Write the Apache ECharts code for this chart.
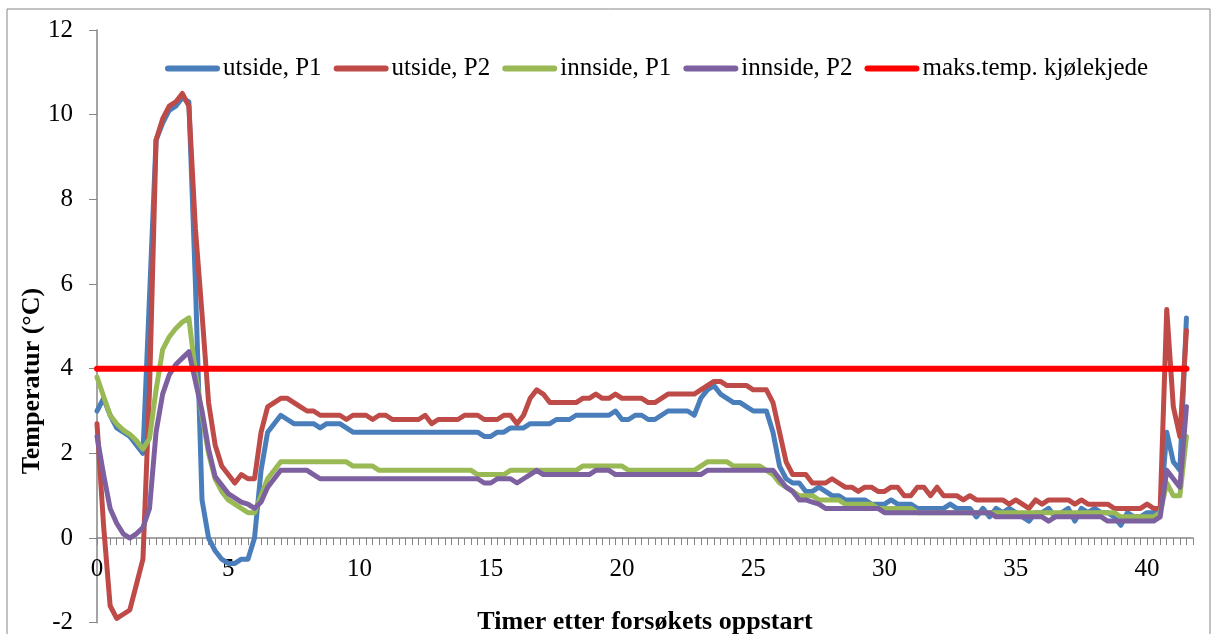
<!DOCTYPE html>
<html>
<head>
<meta charset="utf-8">
<title>Temperatur</title>
<script src="https://cdn.jsdelivr.net/npm/echarts@6/dist/echarts.min.js"></script>
<style>
  html, body { margin: 0; padding: 0; background: #ffffff; }
  #chart { width: 1213px; height: 634px; }
</style>
</head>
<body>
<div id="chart"></div>
<script>
// Logged temperatures, one reading every 15 minutes (0.25 h) from start.
const SAMPLE_STEP_H = 0.25;

const utsideP1 = [
  3.0, 3.3, 2.9, 2.6, 2.5, 2.4, 2.2, 2.0, 5.7, 9.4,
  9.8, 10.1, 10.2, 10.4, 10.3, 6.0, 0.9, 0.0, -0.3, -0.5,
  -0.6, -0.6, -0.5, -0.5, 0.0, 1.6, 2.5, 2.7, 2.9, 2.8,
  2.7, 2.7, 2.7, 2.7, 2.6, 2.7, 2.7, 2.7, 2.6, 2.5,
  2.5, 2.5, 2.5, 2.5, 2.5, 2.5, 2.5, 2.5, 2.5, 2.5,
  2.5, 2.5, 2.5, 2.5, 2.5, 2.5, 2.5, 2.5, 2.5, 2.4,
  2.4, 2.5, 2.5, 2.6, 2.6, 2.6, 2.7, 2.7, 2.7, 2.7,
  2.8, 2.8, 2.8, 2.9, 2.9, 2.9, 2.9, 2.9, 2.9, 3.0,
  2.8, 2.8, 2.9, 2.9, 2.8, 2.8, 2.9, 3.0, 3.0, 3.0,
  3.0, 2.9, 3.3, 3.5, 3.6, 3.4, 3.3, 3.2, 3.2, 3.1,
  3.0, 3.0, 3.0, 2.5, 1.7, 1.4, 1.3, 1.3, 1.1, 1.1,
  1.2, 1.1, 1.0, 1.0, 0.9, 0.9, 0.9, 0.9, 0.8, 0.8,
  0.8, 0.9, 0.8, 0.8, 0.8, 0.7, 0.7, 0.7, 0.7, 0.7,
  0.8, 0.7, 0.7, 0.7, 0.5, 0.7, 0.5, 0.7, 0.6, 0.7,
  0.6, 0.5, 0.4, 0.6, 0.6, 0.7, 0.5, 0.6, 0.7, 0.4,
  0.7, 0.6, 0.7, 0.6, 0.6, 0.5, 0.3, 0.6, 0.5, 0.5,
  0.6, 0.6, 0.6, 2.5, 1.8, 1.6, 5.2
];

const utsideP2 = [
  2.7, 0.3, -1.6, -1.9, -1.8, -1.7, -1.1, -0.5, 3.5, 9.4,
  9.9, 10.2, 10.3, 10.5, 10.2, 7.3, 5.3, 3.2, 2.2, 1.7,
  1.5, 1.3, 1.5, 1.4, 1.4, 2.5, 3.1, 3.2, 3.3, 3.3,
  3.2, 3.1, 3.0, 3.0, 2.9, 2.9, 2.9, 2.9, 2.8, 2.9,
  2.9, 2.9, 2.8, 2.9, 2.9, 2.8, 2.8, 2.8, 2.8, 2.8,
  2.9, 2.7, 2.8, 2.8, 2.8, 2.8, 2.9, 2.9, 2.9, 2.8,
  2.8, 2.8, 2.9, 2.9, 2.7, 2.9, 3.3, 3.5, 3.4, 3.2,
  3.2, 3.2, 3.2, 3.2, 3.3, 3.3, 3.4, 3.3, 3.3, 3.4,
  3.3, 3.3, 3.3, 3.3, 3.2, 3.2, 3.3, 3.4, 3.4, 3.4,
  3.4, 3.4, 3.5, 3.6, 3.7, 3.7, 3.6, 3.6, 3.6, 3.6,
  3.5, 3.5, 3.5, 3.2, 2.5, 1.8, 1.5, 1.5, 1.5, 1.3,
  1.3, 1.3, 1.4, 1.3, 1.2, 1.2, 1.1, 1.2, 1.2, 1.1,
  1.1, 1.2, 1.2, 1.0, 1.0, 1.2, 1.2, 1.0, 1.2, 1.0,
  1.0, 1.0, 0.9, 1.0, 0.9, 0.9, 0.9, 0.9, 0.9, 0.8,
  0.9, 0.8, 0.7, 0.9, 0.8, 0.9, 0.9, 0.9, 0.9, 0.8,
  0.9, 0.8, 0.8, 0.8, 0.8, 0.7, 0.7, 0.7, 0.7, 0.7,
  0.8, 0.7, 0.7, 5.4, 3.1, 2.4, 4.9
];

const innsideP1 = [
  3.8, 3.35, 2.9, 2.7, 2.55, 2.45, 2.3, 2.1, 2.35, 3.5,
  4.45, 4.75, 4.95, 5.1, 5.2, 3.9, 2.9, 2.0, 1.4, 1.1,
  0.9, 0.8, 0.7, 0.6, 0.6, 1.0, 1.4, 1.6, 1.8, 1.8,
  1.8, 1.8, 1.8, 1.8, 1.8, 1.8, 1.8, 1.8, 1.8, 1.7,
  1.7, 1.7, 1.7, 1.6, 1.6, 1.6, 1.6, 1.6, 1.6, 1.6,
  1.6, 1.6, 1.6, 1.6, 1.6, 1.6, 1.6, 1.6, 1.5, 1.5,
  1.5, 1.5, 1.5, 1.6, 1.6, 1.6, 1.6, 1.6, 1.6, 1.6,
  1.6, 1.6, 1.6, 1.6, 1.7, 1.7, 1.7, 1.7, 1.7, 1.7,
  1.7, 1.6, 1.6, 1.6, 1.6, 1.6, 1.6, 1.6, 1.6, 1.6,
  1.6, 1.6, 1.7, 1.8, 1.8, 1.8, 1.8, 1.7, 1.7, 1.7,
  1.7, 1.7, 1.6, 1.5, 1.3, 1.2, 1.1, 1.0, 1.0, 1.0,
  0.9, 0.9, 0.9, 0.9, 0.8, 0.8, 0.8, 0.8, 0.8, 0.7,
  0.7, 0.7, 0.7, 0.7, 0.7, 0.6, 0.6, 0.6, 0.6, 0.6,
  0.6, 0.6, 0.6, 0.6, 0.6, 0.6, 0.6, 0.6, 0.6, 0.6,
  0.6, 0.6, 0.6, 0.6, 0.6, 0.6, 0.6, 0.6, 0.6, 0.6,
  0.6, 0.6, 0.6, 0.6, 0.6, 0.6, 0.5, 0.5, 0.5, 0.5,
  0.5, 0.5, 0.6, 1.3, 1.0, 1.0, 2.4
];

const innsideP2 = [
  2.4, 1.5, 0.7, 0.35, 0.1, 0.0, 0.1, 0.25, 0.7, 2.5,
  3.4, 3.85, 4.1, 4.25, 4.4, 3.7, 3.0, 2.1, 1.45, 1.25,
  1.05, 0.95, 0.85, 0.8, 0.7, 0.85, 1.2, 1.4, 1.6, 1.6,
  1.6, 1.6, 1.6, 1.5, 1.4, 1.4, 1.4, 1.4, 1.4, 1.4,
  1.4, 1.4, 1.4, 1.4, 1.4, 1.4, 1.4, 1.4, 1.4, 1.4,
  1.4, 1.4, 1.4, 1.4, 1.4, 1.4, 1.4, 1.4, 1.4, 1.3,
  1.3, 1.4, 1.4, 1.4, 1.3, 1.4, 1.5, 1.6, 1.5, 1.5,
  1.5, 1.5, 1.5, 1.5, 1.5, 1.5, 1.6, 1.6, 1.6, 1.5,
  1.5, 1.5, 1.5, 1.5, 1.5, 1.5, 1.5, 1.5, 1.5, 1.5,
  1.5, 1.5, 1.5, 1.6, 1.6, 1.6, 1.6, 1.6, 1.6, 1.6,
  1.6, 1.6, 1.6, 1.6, 1.4, 1.2, 1.1, 0.9, 0.9, 0.85,
  0.8, 0.7, 0.7, 0.7, 0.7, 0.7, 0.7, 0.7, 0.7, 0.7,
  0.6, 0.6, 0.6, 0.6, 0.6, 0.6, 0.6, 0.6, 0.6, 0.6,
  0.6, 0.6, 0.6, 0.6, 0.6, 0.6, 0.6, 0.5, 0.5, 0.5,
  0.5, 0.5, 0.5, 0.5, 0.5, 0.4, 0.5, 0.5, 0.5, 0.5,
  0.5, 0.5, 0.5, 0.5, 0.4, 0.4, 0.4, 0.4, 0.4, 0.4,
  0.4, 0.4, 0.5, 1.6, 1.4, 1.2, 3.1
];

// Cold-chain maximum temperature, a flat limit across the whole run.
const maksTempHours = [0, 41.5];
const maksTempValues = [4, 4];

// Axis ranges and tick labels.
const xMin = 0, xMax = 41.75, xTickStep = 0.25, xLabelStep = 5;
const yMin = -2, yMax = 12, yStep = 2;

const seriesNames = ['utside, P1', 'utside, P2', 'innside, P1', 'innside, P2', 'maks.temp. kjølekjede'];
const seriesColors = ['#4A7EBB', '#BE4B48', '#98B954', '#7D60A0', '#FF0000'];
const xTitle = 'Timer etter forsøkets oppstart';
const yTitle = 'Temperatur (°C)';

const timeHours = utsideP1.map((_, i) => i * SAMPLE_STEP_H);
const pairs = (xs, ys) => ys.map((v, i) => [xs[i], v]);

const FONT = "'Liberation Serif', 'Times New Roman', serif";
const AXIS_GREY = '#868686';

// Plot area in pixels; the time axis is drawn where the temperature is 0 °C.
const GRID = { left: 97, right: 20, top: 30, bottom: 11.3 };
const CHART_H = 634;
const plotH = CHART_H - GRID.top - GRID.bottom;
const zeroLift = plotH * (0 - yMin) / (yMax - yMin);

const lineSeries = (name, color, data, width) => ({
  name: name,
  type: 'line',
  data: data,
  showSymbol: false,
  symbol: 'none',
  silent: true,
  clip: true,
  lineStyle: { color: color, width: width, cap: 'round', join: 'round' },
  itemStyle: { color: color },
  emphasis: { disabled: true }
});

const legendIcon = 'path://M3,0H52A3,3,0,0,1,52,6H3A3,3,0,0,1,3,0Z';

const chart = echarts.init(document.getElementById('chart'), null, { renderer: 'canvas' });
chart.setOption({
  animation: false,
  backgroundColor: '#ffffff',
  textStyle: { fontFamily: FONT },
  grid: {
    left: GRID.left, right: GRID.right, top: GRID.top, bottom: GRID.bottom,
    containLabel: false,
    outerBoundsMode: 'none'
  },
  legend: {
    left: 160,
    top: 51,
    icon: legendIcon,
    itemWidth: 55,
    itemHeight: 6,
    itemGap: 12,
    selectedMode: false,
    textStyle: { fontFamily: FONT, fontSize: 25, color: '#000000', padding: [0, 0, 0, -2] },
    data: seriesNames
  },
  xAxis: {
    type: 'value',
    position: 'bottom',
    offset: -zeroLift,
    min: xMin,
    max: xMax,
    interval: xTickStep,
    name: xTitle,
    nameLocation: 'middle',
    nameGap: 71,
    nameTextStyle: { fontFamily: FONT, fontSize: 26, fontWeight: 'bold', color: '#000000' },
    axisLine: { show: true, onZero: false, lineStyle: { color: AXIS_GREY, width: 1.5 } },
    axisTick: { show: true, inside: false, length: 7, lineStyle: { color: AXIS_GREY, width: 1 } },
    axisLabel: {
      show: true,
      margin: 19,
      fontFamily: FONT,
      fontSize: 25,
      color: '#000000',
      hideOverlap: false,
      formatter: v => (Math.abs(v / xLabelStep - Math.round(v / xLabelStep)) < 1e-6 ? String(Math.round(v)) : '')
    },
    splitLine: { show: false },
    minorTick: { show: false }
  },
  yAxis: {
    type: 'value',
    min: yMin,
    max: yMax,
    interval: yStep,
    axisLine: { show: true, onZero: false, lineStyle: { color: AXIS_GREY, width: 1.5 } },
    axisTick: { show: true, inside: false, length: 8, lineStyle: { color: AXIS_GREY, width: 1 } },
    axisLabel: { show: true, margin: 24, fontFamily: FONT, fontSize: 25, color: '#000000' },
    splitLine: { show: false }
  },
  graphic: [
    {
      type: 'rect',
      silent: true,
      shape: { x: 7, y: 9, width: 1203, height: 640 },
      style: { fill: null, stroke: AXIS_GREY, lineWidth: 1 },
      z: -1
    },
    {
      type: 'text',
      silent: true,
      x: 32,
      y: 381,
      rotation: Math.PI / 2,
      style: {
        text: yTitle,
        font: "bold 26px 'Liberation Serif', 'Times New Roman', serif",
        fill: '#000000',
        align: 'center',
        verticalAlign: 'middle'
      }
    }
  ],
  series: [
    lineSeries(seriesNames[0], seriesColors[0], pairs(timeHours, utsideP1), 5),
    lineSeries(seriesNames[1], seriesColors[1], pairs(timeHours, utsideP2), 5),
    lineSeries(seriesNames[2], seriesColors[2], pairs(timeHours, innsideP1), 5),
    lineSeries(seriesNames[3], seriesColors[3], pairs(timeHours, innsideP2), 5),
    lineSeries(seriesNames[4], seriesColors[4], pairs(maksTempHours, maksTempValues), 6)
  ]
});
</script>
</body>
</html>
